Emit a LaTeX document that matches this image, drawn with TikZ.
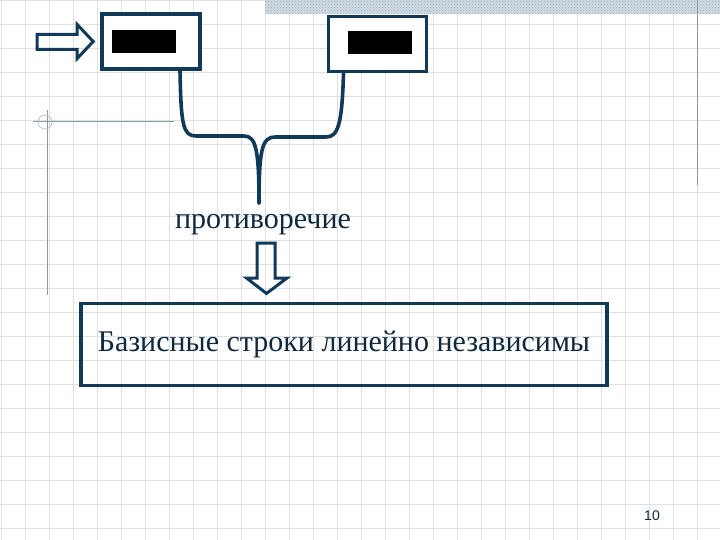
\documentclass[tikz,border=0pt]{standalone}
\usepackage{fontspec}
\setmainfont{Liberation Serif}
\newfontfamily\pagefont{Liberation Sans}
\usepackage{xcolor}
\usetikzlibrary{patterns}

\definecolor{navy}{RGB}{16,58,88}
\definecolor{inkblue}{RGB}{14,40,62}
\definecolor{gridgray}{RGB}{222,224,226}
\definecolor{rulegray}{RGB}{140,152,164}
\definecolor{steelblue}{RGB}{128,156,176}
\definecolor{hatchblue}{RGB}{150,172,190}

\begin{document}
\begin{tikzpicture}[x=1pt, y=-1pt]
\tikzstyle{gridline} = [gridgray, line width=0.9pt]
\tikzstyle{rule} = [rulegray, line width=1pt]
\tikzstyle{cellbox} = [rectangle, draw=navy, line width=3.6pt, fill=white, minimum width=98pt, minimum height=55pt, inner sep=0pt]
\tikzstyle{blackout} = [rectangle, fill=black, minimum width=64pt, minimum height=23.5pt, inner sep=0pt]
\tikzstyle{hollow} = [draw=navy, line width=3pt, line join=miter]
\tikzstyle{brace} = [draw=navy, line width=3.6pt, line cap=round, line join=round]
\tikzstyle{words} = [text=inkblue, font=\fontsize{30}{36}\selectfont, inner sep=0pt]
\tikzstyle{verdict} = [rectangle, draw=navy, line width=3.2pt, minimum width=526pt, minimum height=82pt, words]

\useasboundingbox (0,0) rectangle (720,540);
\fill[white] (0,0) rectangle (720,540);

% background grid of the slide
\foreach \x in {1,25,...,721} \draw[gridline] (\x,0) -- (\x,540);
\foreach \y in {0,24,...,540} \draw[gridline] (0,\y) -- (720,\y);

% slide template marks
\fill[hatchblue!45] (265,0) rectangle (720,14);
\fill[pattern=crosshatch dots, pattern color=hatchblue] (265,0) rectangle (720,14);
\draw[rule] (697,0) -- (697,185);
\draw[rule, draw=steelblue] (33,122) -- (174,122);
\draw[rule] (47,110) -- (47,295);
\draw[rulegray!70, line width=0.6pt] (45,122) circle (7);

% the two boxes
\node (frst) [cellbox] at (151,41.5) {};
\node (scnd) [cellbox] at (377.5,44) {};
\node (frstfill) [blackout] at (144,41.7) {};
\node (scndfill) [blackout] at (380,42.7) {};

% arrow into the first box
\draw[hollow] ([xshift=-7pt]frst.west) -- ++(-16,-17) -- ++(0,10) -- ++(-40,0)
  -- ++(0,15) -- ++(40,0) -- ++(0,9) -- cycle;

% brace joining the boxes
\coordinate (meet) at (259,203);
\draw[brace] ([xshift=29pt]frst.south) .. controls (181,125) and (183,136) .. (196,136)
  -- (244,136) .. controls (256,136) and (259,150) .. (meet);
\draw[brace] ([xshift=-34pt]scnd.south) .. controls (342,125) and (338,137) .. (326,137)
  -- (275,137) .. controls (262,137) and (259,150) .. (meet);

\node (clash) [words] at (263,225) {противоречие};
\node (result) [verdict] at (344,344.7) {Базисные строки линейно независимы};

% arrow down to the result
\coordinate (down) at (257,243);
\draw[hollow] (down) -- ++(18,0) -- ++(0,35) -- ++(12,0) -- ++(-20.5,15.5)
  -- ++(-20,-15.5) -- ++(10.5,0) -- cycle;

\node (pageno) [text=inkblue, font=\pagefont\fontsize{14}{16}\selectfont] at (652,516) {10};
\end{tikzpicture}
\end{document}
